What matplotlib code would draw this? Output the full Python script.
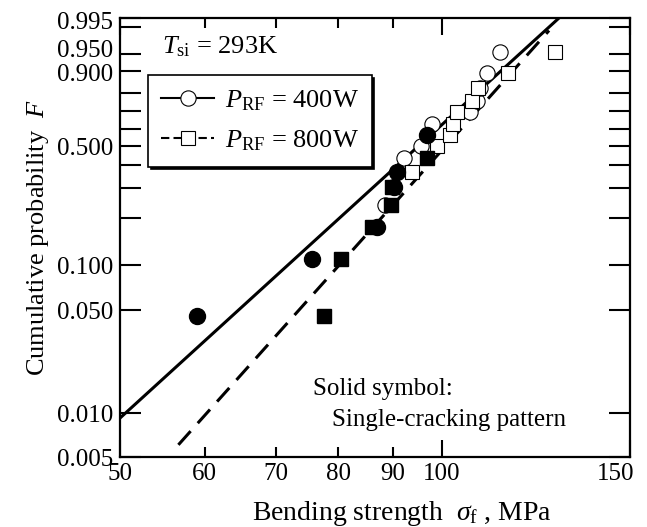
import numpy as np
import matplotlib
matplotlib.use("Agg")
import matplotlib.pyplot as plt
import matplotlib.transforms as mtrans
from matplotlib.lines import Line2D

plt.rcParams['font.family'] = ['Liberation Serif', 'DejaVu Serif']
plt.rcParams['mathtext.fontset'] = 'custom'
plt.rcParams['mathtext.rm'] = 'Liberation Serif'
plt.rcParams['mathtext.it'] = 'Liberation Serif:italic'

# median rank, n = 15
F = [0.0455, 0.110, 0.175, 0.240, 0.305, 0.370, 0.435, 0.500,
     0.565, 0.630, 0.695, 0.760, 0.825, 0.890, 0.955]

# P_RF = 400W (circles)
s400 = [59.0, 75.6, 87.0, 88.5, 90.3, 90.9, 92.1, 95.7,
        96.8, 97.9, 106.3, 108.0, 108.5, 110.3, 113.4]
solid400 = [1, 1, 1, 0, 1, 1, 0, 0, 1, 0, 0, 0, 0, 0, 0]

# P_RF = 800W (squares)
s800 = [77.6, 80.5, 86.0, 89.6, 89.9, 93.7, 96.9, 98.9,
        101.8, 102.5, 103.4, 106.7, 108.2, 115.3, 127.6]
solid800 = [1, 1, 1, 1, 1, 0, 1, 0, 0, 0, 0, 0, 0, 0, 0]

# weibull fits (modulus, scale)
m400, sig0_400 = 6.71, 100.4
m800, sig0_800 = 8.23, 105.4

ytick_vals = [0.005, 0.010, 0.050, 0.100, 0.500, 0.900, 0.950, 0.995]
ytick_minor = [0.2, 0.3, 0.4, 0.6, 0.7, 0.8, 0.99]
xtick_major = [50, 100, 150]
xtick_minor = [60, 70, 80, 90]


def fwd(p):
    p = np.clip(p, 1e-9, 1 - 1e-9)
    return np.log(-np.log(1 - p))


def inv(w):
    return 1 - np.exp(-np.exp(w))


def shift(t, dx, dy):
    t.set_transform(t.get_transform() +
                    mtrans.ScaledTranslation(dx / 100, dy / 100, fig.dpi_scale_trans))


fig = plt.figure(figsize=(6.47, 5.27), dpi=100)
ax = fig.add_axes([0.1855, 0.1328, 0.7882, 0.8330])
ax.set_xscale('log')
ax.set_yscale('function', functions=(fwd, inv))
ax.set_xlim(50, 150)
ax.set_ylim(0.005, 0.995)

# fitted lines
x1 = np.linspace(50, 128.8, 50)
ax.plot(x1, inv(m400 * np.log(x1 / sig0_400)), color='k', lw=2.2)
x2 = np.linspace(56.7, 126.0, 50)
ax.plot(x2, inv(m800 * np.log(x2 / sig0_800)), color='k', lw=2.2,
        dashes=(6, 3.5))

s400 = np.array(s400); s800 = np.array(s800); Fa = np.array(F)
b4 = np.array(solid400) == 1
b8 = np.array(solid800) == 1
ax.plot(s400[~b4], Fa[~b4], 'o', ms=11, mfc='white', mec='k', mew=0.8)
ax.plot(s800[~b8], Fa[~b8], 's', ms=10, mfc='white', mec='k', mew=0.8)
ax.plot(s800[b8], Fa[b8], 's', ms=10, mfc='k', mec='k')
ax.plot(s400[b4], Fa[b4], 'o', ms=11.5, mfc='k', mec='k')

ax.set_yticks(ytick_vals, ['%.3f' % v for v in ytick_vals])
ax.set_yticks(ytick_minor, minor=True)
ax.set_xticks(xtick_major, [str(v) for v in xtick_major])
ax.set_xticks(xtick_minor, [str(v) for v in xtick_minor], minor=True)
ax.tick_params(which='both', direction='in', top=True, right=True,
               width=1.5, labelsize=18)
ax.tick_params(axis='y', which='both', length=15, pad=5)
ax.tick_params(axis='x', which='major', length=12, pad=4)
ax.tick_params(axis='x', which='minor', length=7, pad=4)
for sp in ax.spines.values():
    sp.set_linewidth(1.6)

# nudge crowded labels like in the original
ylabs = ax.get_yticklabels()
shift(ylabs[5], 0, -1.5)
shift(ylabs[6], 0, 5)
shift(ylabs[7], 0, -2)
xlabs = ax.get_xticklabels()
xlabs[2].set_horizontalalignment('right')
shift(xlabs[2], 4, 0)

ax.set_xlabel(r'Bending strength  $\sigma_{\rm f}$ , MPa', fontsize=20,
              labelpad=2)
ax.xaxis.set_label_coords(0.553, -0.095)
ax.set_ylabel(r'Cumulative probability  $F$', fontsize=19, labelpad=4)

ax.text(0.083, 0.935, r'$T_{\rm si}$ = 293K', transform=ax.transAxes,
        fontsize=19, va='center')
ax.text(0.378, 0.156, 'Solid symbol:', transform=ax.transAxes,
        fontsize=18, va='center')
ax.text(0.416, 0.084, 'Single-cracking pattern', transform=ax.transAxes,
        fontsize=18, va='center')

h1 = Line2D([], [], color='k', lw=1.5, marker='o', ms=11, mfc='white',
            mec='k', mew=0.8)
h2 = Line2D([], [], color='k', lw=1.5, marker='s', ms=10, mfc='white',
            mec='k', mew=0.8, dashes=(4, 2))
leg = ax.legend([h1, h2], [r'$P_{\rm RF}$ = 400W', r'$P_{\rm RF}$ = 800W'],
                loc='upper left', bbox_to_anchor=(0.055, 0.870),
                borderaxespad=0, fontsize=19, handlelength=2.0,
                handletextpad=0.4, borderpad=0.5, labelspacing=0.6,
                fancybox=False, edgecolor='k', framealpha=1,
                shadow={'color': 'k', 'alpha': 1})
leg.get_frame().set_linewidth(1.2)

plt.savefig('out.png', dpi=100)
